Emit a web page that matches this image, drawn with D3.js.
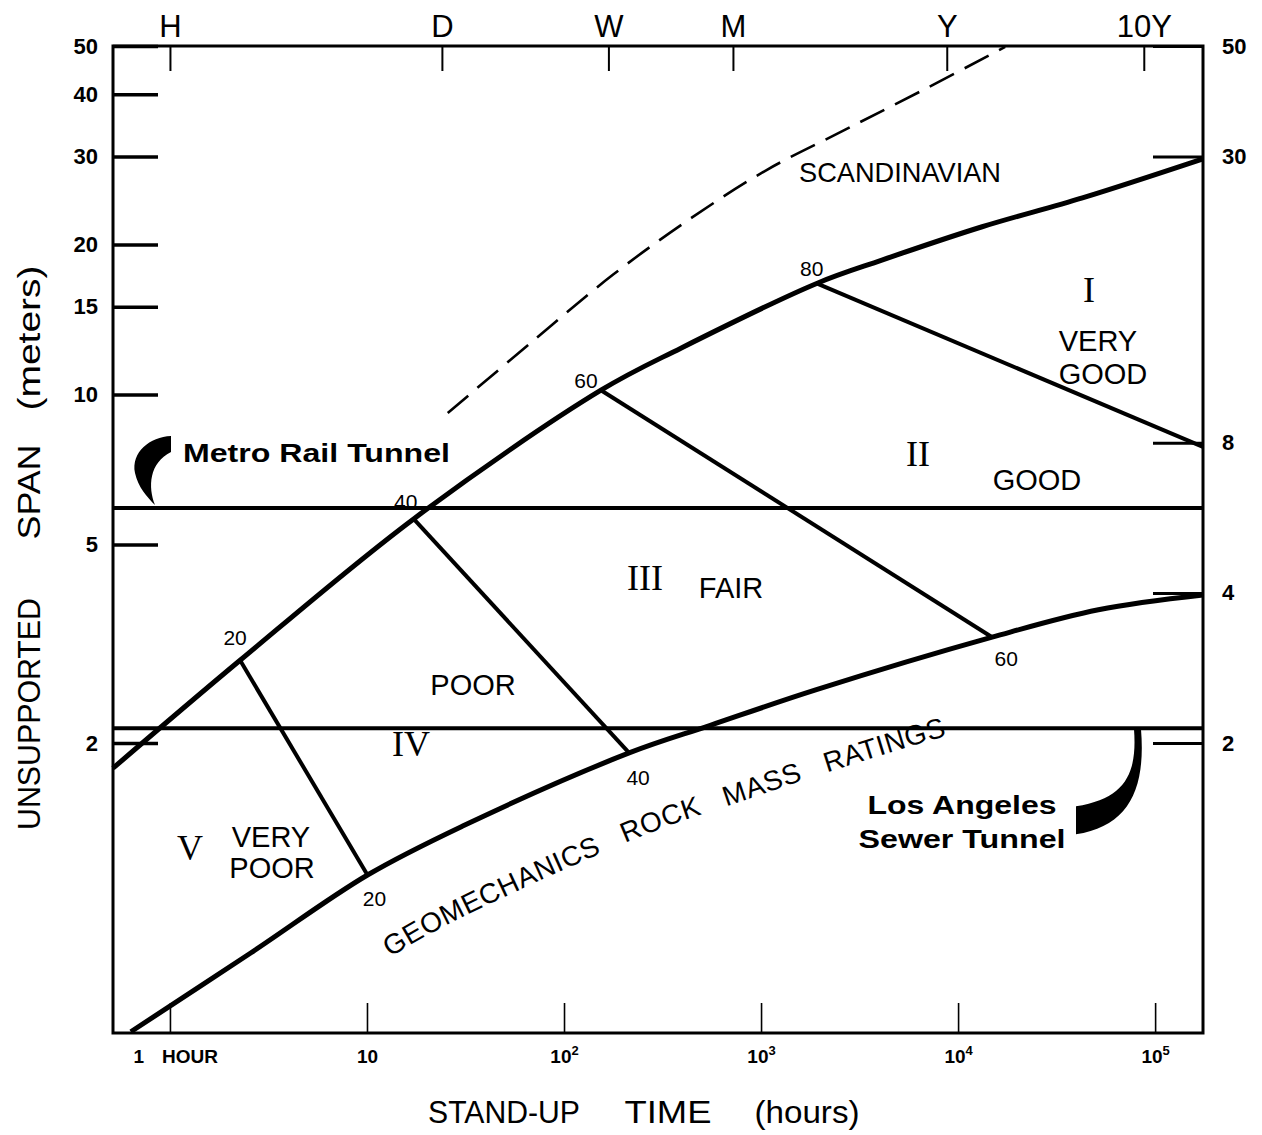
<!DOCTYPE html>
<html><head><meta charset="utf-8">
<script src="https://cdn.jsdelivr.net/npm/d3@7"></script>
<style>
html,body{margin:0;padding:0;background:#fff;}
svg{display:block;}
text{font-family:"Liberation Sans",Arial,sans-serif;fill:#000;}
</style></head><body>
<svg id="chart" width="1262" height="1135"></svg>
<script>
// ---------- data ----------
const hoursTicks = [1, 10, 100, 1000, 10000, 100000];
const hoursTickBase = ["1", "10", "10", "10", "10", "10"];
const hoursTickExp = ["", "", "2", "3", "4", "5"];
const periodTicks = [1, 24, 168, 720, 8760, 87600];
const periodLabels = ["H", "D", "W", "M", "Y", "10Y"];
const spanTicksLeft = [50, 40, 30, 20, 15, 10, 5, 2];
const spanTicksRight = [50, 30, 8, 4, 2];

// upper limit of rock mass rating zone
const upperHours = [0.514, 2.27, 17.25, 154, 394, 1916, 4104, 13250, 42760, 175000];
const upperSpan  = [1.78, 2.93, 5.63, 10.2, 12.4, 16.7, 18.6, 21.7, 24.8, 29.7];
// lower limit (immediate collapse boundary)
const lowerHours = [0.633, 2.58, 10.06, 30.6, 214, 553, 1893, 14890, 51550, 175000];
const lowerSpan  = [0.527, 0.759, 1.087, 1.363, 1.91, 2.17, 2.555, 3.26, 3.70, 3.96];
// Scandinavian experience (dashed)
const scandHours = [25.7, 67.9, 177.6, 443, 1067, 2570, 6559, 17340];
const scandSpan  = [9.18, 12.7, 17.4, 22.6, 28.2, 33.7, 40.7, 49.8];

// geomechanics rock mass rating contours
const ratingValues      = [20, 40, 60, 80];
const ratingTopHours    = [2.27, 17.25, 154, 1916];
const ratingTopSpan     = [2.93, 5.63, 10.2, 16.7];
const ratingBottomHours = [10.06, 214, 14890, 175000];
const ratingBottomSpan  = [1.087, 1.91, 3.26, 7.85];

const tunnelNames = ["Metro Rail Tunnel", "Los Angeles", "Sewer Tunnel"];
const tunnelSpan  = [5.92, 2.14];

const classNumerals = ["I", "II", "III", "IV", "V"];
const classNames = [["VERY", "GOOD"], ["GOOD"], ["FAIR"], ["POOR"], ["VERY", "POOR"]];

// ---------- layout ----------
const L = 113, R = 1203, T = 46, B = 1033;
const svg = d3.select("#chart");
const x = d3.scaleLog().domain([0.514, 175000]).range([L, R]);
const y = d3.scaleLog().domain([0.524, 50]).range([B, T]);

// axes
const gLeft = svg.append("g").attr("transform", `translate(${L},0)`)
  .call(d3.axisLeft(y).tickValues(spanTicksLeft).tickFormat(d3.format("d")).tickSize(-45).tickSizeOuter(0).tickPadding(15));
gLeft.selectAll(".tick line").attr("stroke", "#000").attr("stroke-width", 3.5);
gLeft.selectAll(".tick text").attr("font-size", 22).attr("font-weight", "bold").attr("fill", "#000");

const gRight = svg.append("g").attr("transform", `translate(${R},0)`)
  .call(d3.axisRight(y).tickValues(spanTicksRight).tickFormat(d3.format("d")).tickSize(-50).tickSizeOuter(0).tickPadding(19));
gRight.selectAll(".tick line").attr("stroke", "#000").attr("stroke-width", 3);
gRight.selectAll(".tick text").attr("font-size", 22).attr("font-weight", "bold").attr("fill", "#000");

const gTop = svg.append("g").attr("transform", `translate(0,${T})`)
  .call(d3.axisTop(x).tickValues(periodTicks).tickFormat((d, i) => periodLabels[i]).tickSize(-25).tickSizeOuter(0).tickPadding(9));
gTop.selectAll(".tick line").attr("stroke", "#000").attr("stroke-width", 2);
gTop.selectAll(".tick text").attr("font-size", 31).attr("fill", "#000");

const gBot = svg.append("g").attr("transform", `translate(0,${B})`)
  .call(d3.axisBottom(x).tickValues(hoursTicks).tickFormat(() => "").tickSize(-30).tickSizeOuter(0).tickPadding(17));
gBot.selectAll(".tick line").attr("stroke", "#000").attr("stroke-width", 1.6);
gBot.selectAll(".tick text").each(function(d, i) {
  const t = d3.select(this).attr("font-size", 19).attr("font-weight", "bold").attr("fill", "#000");
  t.text(null);
  if (i === 0) {
    t.attr("text-anchor", "start").attr("x", -37);
    t.append("tspan").text(hoursTickBase[i]);
    t.append("tspan").attr("dx", 18).text("HOUR");
  } else {
    t.append("tspan").text(hoursTickBase[i]);
    if (hoursTickExp[i]) t.append("tspan").attr("font-size", 13).attr("dy", -8).text(hoursTickExp[i]);
  }
});
svg.selectAll(".domain").remove();

// frame
svg.append("rect").attr("x", L).attr("y", T).attr("width", R - L).attr("height", B - T)
  .attr("fill", "none").attr("stroke", "#000").attr("stroke-width", 3);

// axis titles (word by word, spread like the original lettering)
[["STAND-UP", 504, 152], ["TIME", 668, 87], ["(hours)", 807, 105]].forEach(w => {
  svg.append("text").attr("x", w[1]).attr("y", 1123).attr("text-anchor", "middle").attr("font-size", 31)
    .attr("textLength", w[2]).attr("lengthAdjust", "spacingAndGlyphs").text(w[0]);
});
[["UNSUPPORTED", 714, 232], ["SPAN", 492, 95], ["(meters)", 338, 145]].forEach(w => {
  svg.append("text").attr("transform", `translate(40,${w[1]}) rotate(-90)`).attr("text-anchor", "middle").attr("font-size", 32)
    .attr("textLength", w[2]).attr("lengthAdjust", "spacingAndGlyphs").text(w[0]);
});

// curves
const line = d3.line().x(d => x(d[0])).y(d => y(d[1])).curve(d3.curveCatmullRom.alpha(0.5));
const upper = upperHours.map((h, i) => [h, upperSpan[i]]);
const lower = lowerHours.map((h, i) => [h, lowerSpan[i]]);
const scand = scandHours.map((h, i) => [h, scandSpan[i]]);

svg.append("path").attr("d", line(scand)).attr("fill", "none").attr("stroke", "#000")
  .attr("stroke-width", 2.6).attr("stroke-dasharray", "27,12");
svg.append("path").attr("d", line(upper)).attr("fill", "none").attr("stroke", "#000").attr("stroke-width", 5);
const lowerPath = svg.append("path").attr("d", line(lower)).attr("fill", "none").attr("stroke", "#000").attr("stroke-width", 5);

// rating lines
const straight = d3.line().x(d => x(d[0])).y(d => y(d[1]));
ratingValues.forEach((r, i) => {
  svg.append("path").attr("d", straight([[ratingTopHours[i], ratingTopSpan[i]], [ratingBottomHours[i], ratingBottomSpan[i]]]))
    .attr("fill", "none").attr("stroke", "#000").attr("stroke-width", 4);
});
const topOff = [[-5, -15], [-8, -10], [-15, -2], [-5, -7]];
const botOff = [[7, 31], [9, 32], [14, 29]];
ratingValues.forEach((r, i) => {
  svg.append("text").attr("x", x(ratingTopHours[i]) + topOff[i][0]).attr("y", y(ratingTopSpan[i]) + topOff[i][1])
    .attr("text-anchor", "middle").attr("font-size", 21).text(r);
  if (i < 3) svg.append("text").attr("x", x(ratingBottomHours[i]) + botOff[i][0]).attr("y", y(ratingBottomSpan[i]) + botOff[i][1])
    .attr("text-anchor", "middle").attr("font-size", 21).text(r);
});

// tunnel lines
tunnelSpan.forEach(s => {
  svg.append("line").attr("x1", L).attr("x2", R).attr("y1", y(s)).attr("y2", y(s))
    .attr("stroke", "#000").attr("stroke-width", 4);
});

// tunnel labels + arrows
const ym = y(tunnelSpan[0]), ys = y(tunnelSpan[1]);
svg.append("text").attr("x", 183).attr("y", ym - 46).attr("font-size", 26).attr("font-weight", "bold")
  .attr("textLength", 267).attr("lengthAdjust", "spacingAndGlyphs").text(tunnelNames[0]);
svg.append("path").attr("transform", `translate(0,${ym - 508})`)
  .attr("d", "M171,436 C150,437 131,452 135,473 C138,487 147,497 155,505 C148,487 149,463 171,452 Z").attr("fill", "#000");
svg.append("text").attr("x", 962).attr("y", ys + 86).attr("text-anchor", "middle").attr("font-size", 26).attr("font-weight", "bold")
  .attr("textLength", 189).attr("lengthAdjust", "spacingAndGlyphs").text(tunnelNames[1]);
svg.append("text").attr("x", 962).attr("y", ys + 120).attr("text-anchor", "middle").attr("font-size", 26).attr("font-weight", "bold")
  .attr("textLength", 207).attr("lengthAdjust", "spacingAndGlyphs").text(tunnelNames[2]);
svg.append("path").attr("transform", `translate(0,${ys - 728})`)
  .attr("d", "M1134,729 C1137,770 1128,798 1076,806 L1076,834 C1128,826 1146,790 1141,729 Z").attr("fill", "#000");

// Scandinavian label
svg.append("text").attr("x", 900).attr("y", 182).attr("text-anchor", "middle").attr("font-size", 28)
  .attr("textLength", 202).attr("lengthAdjust", "spacingAndGlyphs").text("SCANDINAVIAN");

// class labels
const numeralPos = [[1089, 302], [918, 466], [645, 590], [411, 756], [190, 860]];
const namePos = [[[1098, 351], [1103, 384]], [[1037, 490]], [[731, 598]], [[473, 695]], [[271, 847], [272, 878]]];
classNumerals.forEach((n, i) => {
  svg.append("text").attr("x", numeralPos[i][0]).attr("y", numeralPos[i][1]).attr("text-anchor", "middle")
    .style("font-family", "'Liberation Serif',serif").attr("font-size", 36).text(n);
  classNames[i].forEach((w, j) => {
    svg.append("text").attr("x", namePos[i][j][0]).attr("y", namePos[i][j][1]).attr("text-anchor", "middle")
      .attr("font-size", 29).text(w);
  });
});

// text along lower curve
const node = lowerPath.node();
const total = node.getTotalLength();
const off = 82, pts = [];
for (let s = 0; s <= total; s += 4) {
  const p = node.getPointAtLength(s), q = node.getPointAtLength(Math.min(total, s + 2)), o = node.getPointAtLength(Math.max(0, s - 2));
  let tx = q.x - o.x, ty = q.y - o.y; const len = Math.hypot(tx, ty) || 1; tx /= len; ty /= len;
  pts.push([p.x - ty * off, p.y + tx * off]);
}
const offPath = svg.append("defs").append("path").attr("id", "rmrPath").attr("d", d3.line().curve(d3.curveBasis)(pts));
const offNode = offPath.node();
const offTotal = offNode.getTotalLength();
let startLen = 0;
for (let s = 0; s <= offTotal; s += 1) { if (offNode.getPointAtLength(s).x >= 390) { startLen = s; break; } }
svg.append("text").attr("font-size", 28).attr("letter-spacing", 0.5).attr("xml:space", "preserve").style("white-space", "pre")
  .append("textPath").attr("href", "#rmrPath").attr("startOffset", startLen)
  .text("GEOMECHANICS   ROCK   MASS   RATINGS");
</script></body></html>
